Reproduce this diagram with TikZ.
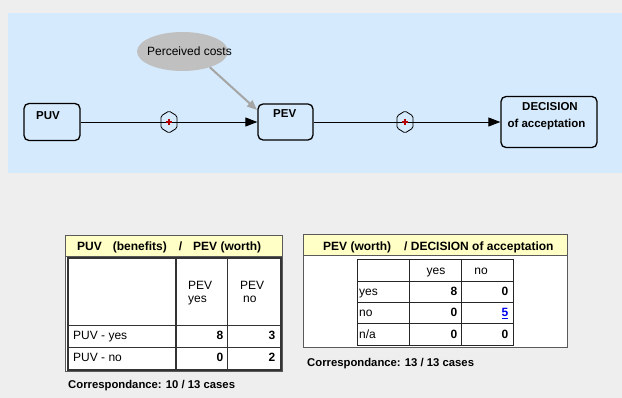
\documentclass[tikz,border=0pt]{standalone}
\usepackage{fontspec}
\setmainfont{Liberation Sans}
\usetikzlibrary{shapes.misc,shapes.geometric,arrows.meta,calc}
\definecolor{bggray}{RGB}{238,238,238}
\definecolor{panel}{RGB}{213,234,252}
\definecolor{hdr}{RGB}{255,255,198}
\definecolor{ellgray}{RGB}{192,192,192}
\definecolor{arrgray}{RGB}{165,165,165}
\definecolor{plusred}{RGB}{180,0,0}
\definecolor{linkblue}{RGB}{0,0,238}
\definecolor{framegray}{RGB}{90,90,90}
\begin{document}
\begin{tikzpicture}[x=1pt,y=-1pt,
  vbox/.style={draw=black, line width=1.3pt, rectangle, rounded corners=5pt,
    inner sep=0pt, fill=panel},
  lbl/.style={inner sep=0pt, font=\fontsize{11.5}{14}\selectfont\bfseries},
  txt/.style={inner sep=0pt, font=\fontsize{12}{14}\selectfont},
  btxt/.style={inner sep=0pt, font=\fontsize{12}{14}\selectfont\bfseries},
  ctxt/.style={inner sep=0pt, font=\fontsize{11.3}{14}\selectfont\bfseries},
  conn/.style={line width=0.9pt, -{Triangle[length=12pt,width=9pt]}},
  hexline/.style={line width=0.8pt, rounded corners=1.5pt},
  plusline/.style={plusred, line width=1.2pt},
  gridA/.style={black!80, line width=1.25pt},
  gridB/.style={black!85, line width=0.9pt},
  frame/.style={framegray, line width=0.8pt}]
% background
\fill[bggray] (0,0) rectangle (622,398);
\useasboundingbox (0,0) rectangle (622,398);
\fill[panel] (8,13) rectangle (622,173);

% diagram nodes
\node[vbox, minimum width=56pt, minimum height=37pt] (puv) at (52,122) {};
\node[lbl, anchor=base west] (puvt) at (36,119.3) {PUV};
\node[vbox, minimum width=55pt, minimum height=36pt] (pev) at (285.5,122) {};
\node[lbl, anchor=base west] (pevt) at (273,117.7) {PEV};
\node[vbox, minimum width=96pt, minimum height=51pt] (dec) at (549,122) {};
\node[lbl, anchor=base] (dect1) at (550,111) {DECISION};
\node[lbl, anchor=base] (dect2) at (546.5,127.5) {of acceptation};

\node[ellipse, fill=ellgray, minimum width=91pt, minimum height=39pt, inner sep=0pt] (pc) at (182.5,51.5) {};
\node[txt, anchor=base] (pct) at (189.5,55.5) {Perceived costs};

% connectors
\draw[conn] (puv) -- (pev);
\draw[conn] (pev) -- (dec);
\coordinate (pcend) at (257,110);
\draw[arrgray, line width=2pt, -{Triangle[length=10pt,width=8pt]}] (pc.-30) -- (pcend);

% hexagon markers
\coordinate (h1) at (169,122);
\coordinate (h2) at (405,122);
\foreach \h in {h1,h2}{
  \draw[hexline] ($(\h)+(0,-11)$) -- ++(8,5) -- ++(0,12) -- ++(-8,5) -- ++(-8,-5) -- ++(0,-12) -- cycle;
  \draw[plusline] ($(\h)+(-3,0)$) -- ($(\h)+(3,0)$);
  \draw[plusline] ($(\h)+(0,-3.2)$) -- ($(\h)+(0,3.2)$);
}

% ---------- table 1 ----------
\fill[white] (65,235) rectangle (282,371);
\fill[hdr] (65,235) rectangle (282,256.5);
\draw[frame] (65,235) rectangle (282,371);
\draw[frame] (65,256.5) -- (282,256.5);
\node[btxt, anchor=base west] (t1h) at (77,251) {PUV\hspace{11pt}(benefits)\hspace{12pt}/\hspace{11pt}PEV (worth)};
\draw[gridA] (68,258) rectangle (281,370);
\draw[gridA] (68,325.5) -- (281,325.5);
\draw[gridA] (68,347.5) -- (281,347.5);
\draw[gridA] (176,258) -- (176,370);
\draw[gridA] (227.5,258) -- (227.5,370);
\node[txt, anchor=base west] (t1c1a) at (188,290) {PEV};
\node[txt, anchor=base west] (t1c1b) at (188,303) {yes};
\node[txt, anchor=base west] (t1c2a) at (240,290) {PEV};
\node[txt, anchor=base west] (t1c2b) at (243,303) {no};
\node[txt, anchor=base west] (t1r1) at (73,340) {PUV - yes};
\node[txt, anchor=base west] (t1r2) at (73,362) {PUV - no};
\node[btxt, anchor=base east] (t1v11) at (223.5,340) {8};
\node[btxt, anchor=base east] (t1v12) at (275.5,340) {3};
\node[btxt, anchor=base east] (t1v21) at (223.5,362) {0};
\node[btxt, anchor=base east] (t1v22) at (275.5,362) {2};
\node[ctxt, anchor=base west] (t1corr) at (68,389) {Correspondance: 10 / 13 cases};

% ---------- table 2 ----------
\fill[white] (303,234) rectangle (567,347);
\fill[hdr] (303,234) rectangle (567,255.5);
\draw[frame] (303,234) rectangle (567,347);
\draw[frame] (303,255.5) -- (567,255.5);
\node[btxt, anchor=base west] (t2h) at (323,251) {PEV (worth)\hspace{13pt}/ DECISION of acceptation};
\draw[gridB] (357,259) rectangle (513,345);
\foreach \yy in {281,302,323}{ \draw[gridB] (357,\yy) -- (513,\yy); }
\draw[gridB] (409,259) -- (409,345);
\draw[gridB] (461,259) -- (461,345);
\node[txt, anchor=base] (t2c1) at (436,274.5) {yes};
\node[txt, anchor=base] (t2c2) at (481,274.5) {no};
\node[txt, anchor=base west] (t2r1) at (359,296) {yes};
\node[txt, anchor=base west] (t2r2) at (359,317) {no};
\node[txt, anchor=base west] (t2r3) at (359,338.5) {n/a};
\node[btxt, anchor=base east] (t2v11) at (457.5,296) {8};
\node[btxt, anchor=base east] (t2v12) at (508.5,296) {0};
\node[btxt, anchor=base east] (t2v21) at (457.5,317) {0};
\node[btxt, anchor=base east, text=linkblue] (t2v22) at (508.5,317) {\underline{5}};
\node[btxt, anchor=base east] (t2v31) at (457.5,338.5) {0};
\node[btxt, anchor=base east] (t2v32) at (508.5,338.5) {0};
\node[ctxt, anchor=base west] (t2corr) at (307,367) {Correspondance: 13 / 13 cases};
\end{tikzpicture}
\end{document}
